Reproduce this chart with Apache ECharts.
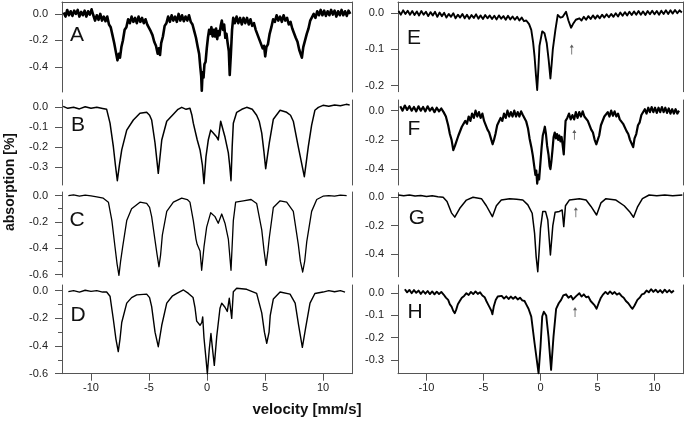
<!DOCTYPE html>
<html>
<head>
<meta charset="utf-8">
<script src="https://cdn.jsdelivr.net/npm/echarts@6/dist/echarts.min.js"></script>
<style>
  html, body { margin: 0; padding: 0; background: #fff; }
  #chart { width: 685px; height: 430px; }
</style>
</head>
<body>
<div id="chart"></div>
<script>
// spectra: [velocity mm/s, absorption %]
const specA = [[-12.35, 0.01], [-12.2, -0.02], [-12.05, 0.03], [-11.9, -0.01], [-11.75, 0.02], [-11.6, -0.015], [-11.45, 0.025], [-11.3, 0.0], [-11.15, 0.03], [-11.0, -0.02], [-10.85, 0.015], [-10.7, -0.01], [-10.55, 0.025], [-10.4, -0.02], [-10.25, 0.02], [-10.1, -0.005], [-9.95, 0.035], [-9.8, -0.01], [-9.65, -0.05], [-9.5, -0.01], [-9.35, -0.045], [-9.2, 0.0], [-9.05, -0.05], [-8.9, -0.02], [-8.75, -0.055], [-8.6, -0.02], [-8.45, -0.08], [-8.3, -0.1], [-8.15, -0.16], [-8.0, -0.22], [-7.85, -0.29], [-7.72, -0.35], [-7.6, -0.3], [-7.5, -0.33], [-7.38, -0.25], [-7.25, -0.2], [-7.1, -0.12], [-6.95, -0.1], [-6.8, -0.04], [-6.65, -0.07], [-6.5, -0.02], [-6.35, -0.06], [-6.2, -0.03], [-6.05, -0.07], [-5.9, -0.02], [-5.75, -0.06], [-5.6, -0.03], [-5.45, -0.07], [-5.3, -0.04], [-5.15, -0.08], [-5.0, -0.09], [-4.85, -0.13], [-4.7, -0.16], [-4.55, -0.21], [-4.4, -0.24], [-4.25, -0.3], [-4.15, -0.26], [-4.05, -0.31], [-3.95, -0.22], [-3.8, -0.17], [-3.65, -0.09], [-3.5, -0.07], [-3.35, -0.02], [-3.2, -0.06], [-3.05, -0.01], [-2.9, -0.05], [-2.75, -0.02], [-2.6, -0.06], [-2.45, 0.0], [-2.3, -0.05], [-2.15, -0.01], [-2.0, -0.055], [-1.85, -0.02], [-1.7, -0.05], [-1.55, -0.01], [-1.4, -0.06], [-1.25, -0.08], [-1.1, -0.13], [-0.95, -0.18], [-0.8, -0.25], [-0.68, -0.3], [-0.58, -0.4], [-0.5, -0.47], [-0.45, -0.58], [-0.38, -0.44], [-0.3, -0.48], [-0.22, -0.38], [-0.12, -0.36], [-0.02, -0.26], [0.08, -0.18], [0.18, -0.12], [0.28, -0.15], [0.38, -0.1], [0.48, -0.17], [0.58, -0.12], [0.68, -0.17], [0.78, -0.11], [0.88, -0.19], [0.98, -0.13], [1.08, -0.16], [1.18, -0.09], [1.28, -0.05], [1.38, -0.12], [1.48, -0.08], [1.58, -0.18], [1.68, -0.15], [1.78, -0.22], [1.88, -0.28], [1.96, -0.46], [2.06, -0.3], [2.16, -0.12], [2.26, -0.03], [2.4, -0.07], [2.55, -0.02], [2.7, -0.07], [2.85, -0.03], [3.0, -0.08], [3.15, -0.03], [3.3, -0.07], [3.45, -0.03], [3.6, -0.08], [3.75, -0.04], [3.9, -0.09], [4.05, -0.07], [4.2, -0.12], [4.35, -0.13], [4.5, -0.19], [4.65, -0.2], [4.8, -0.26], [4.92, -0.24], [5.02, -0.32], [5.12, -0.25], [5.25, -0.23], [5.4, -0.15], [5.55, -0.1], [5.7, -0.04], [5.85, -0.06], [6.0, -0.01], [6.15, -0.05], [6.3, -0.02], [6.45, -0.06], [6.6, -0.01], [6.75, -0.05], [6.9, -0.03], [7.05, -0.08], [7.2, -0.06], [7.35, -0.11], [7.5, -0.12], [7.65, -0.18], [7.8, -0.21], [7.95, -0.27], [8.08, -0.26], [8.18, -0.33], [8.3, -0.25], [8.45, -0.24], [8.6, -0.15], [8.75, -0.11], [8.9, -0.05], [9.05, -0.06], [9.2, 0.0], [9.35, -0.03], [9.5, 0.02], [9.65, -0.01], [9.8, 0.03], [9.95, -0.01], [10.1, 0.025], [10.25, -0.015], [10.4, 0.02], [10.55, -0.01], [10.7, 0.03], [10.85, -0.005], [11.0, 0.025], [11.15, -0.02], [11.3, 0.02], [11.45, -0.01], [11.6, 0.03], [11.75, -0.01], [11.9, 0.02], [12.05, -0.015], [12.2, 0.025], [12.35, 0.0]];
const specB = [[-12.4, 0.005], [-12.0, -0.005], [-11.5, 0.0], [-11.0, -0.008], [-10.5, 0.003], [-10.0, -0.005], [-9.5, 0.0], [-9.0, -0.006], [-8.65, -0.01], [-8.36, -0.08], [-8.07, -0.2], [-7.9, -0.29], [-7.73, -0.37], [-7.55, -0.29], [-7.35, -0.215], [-6.92, -0.115], [-6.35, -0.064], [-5.78, -0.03], [-5.2, -0.025], [-4.95, -0.04], [-4.77, -0.064], [-4.48, -0.18], [-4.2, -0.333], [-3.9, -0.165], [-3.47, -0.07], [-2.9, -0.035], [-2.5, -0.01], [-2.18, 0.0], [-1.8, -0.01], [-1.47, -0.005], [-1.3, -0.04], [-1.18, -0.08], [-0.84, -0.165], [-0.6, -0.215], [-0.4, -0.29], [-0.26, -0.385], [-0.09, -0.25], [0.11, -0.165], [0.32, -0.115], [0.54, -0.13], [0.84, -0.15], [0.97, -0.165], [1.18, -0.07], [1.35, -0.08], [1.55, -0.15], [1.84, -0.23], [1.95, -0.29], [2.07, -0.37], [2.17, -0.2], [2.27, -0.08], [2.56, -0.025], [3.0, -0.01], [3.42, 0.0], [3.9, -0.01], [4.28, -0.04], [4.5, -0.07], [4.72, -0.13], [4.9, -0.22], [5.06, -0.31], [5.2, -0.25], [5.37, -0.18], [5.72, -0.06], [6.3, -0.015], [6.87, -0.025], [7.2, -0.04], [7.44, -0.07], [7.87, -0.2], [8.15, -0.28], [8.39, -0.35], [8.55, -0.28], [8.73, -0.2], [9.02, -0.09], [9.3, -0.015], [9.6, 0.0], [10.0, 0.01], [10.5, 0.005], [11.0, 0.012], [11.5, 0.008], [12.0, 0.015], [12.3, 0.012]];
const specC = [[-11.95, 0.0], [-11.5, 0.005], [-11.0, -0.005], [-10.5, 0.003], [-10.0, -0.003], [-9.5, -0.01], [-8.94, -0.02], [-8.5, -0.05], [-8.2, -0.19], [-7.93, -0.39], [-7.75, -0.52], [-7.59, -0.605], [-7.45, -0.5], [-7.27, -0.39], [-6.92, -0.19], [-6.5, -0.1], [-5.78, -0.05], [-5.2, -0.06], [-4.95, -0.09], [-4.77, -0.16], [-4.48, -0.34], [-4.3, -0.45], [-4.14, -0.54], [-4.0, -0.45], [-3.85, -0.3], [-3.47, -0.12], [-2.9, -0.05], [-2.18, -0.02], [-1.7, -0.03], [-1.47, -0.05], [-1.18, -0.19], [-0.95, -0.33], [-0.85, -0.37], [-0.75, -0.36], [-0.6, -0.42], [-0.46, -0.567], [-0.26, -0.39], [-0.03, -0.24], [0.32, -0.13], [0.69, -0.16], [0.97, -0.21], [1.27, -0.14], [1.55, -0.21], [1.84, -0.33], [2.07, -0.567], [2.27, -0.19], [2.47, -0.05], [3.13, -0.04], [3.8, -0.03], [4.28, -0.06], [4.72, -0.26], [4.92, -0.42], [5.09, -0.53], [5.25, -0.42], [5.37, -0.32], [5.72, -0.09], [6.3, -0.04], [6.87, -0.05], [7.44, -0.12], [7.87, -0.37], [8.05, -0.5], [8.25, -0.58], [8.42, -0.5], [8.6, -0.35], [9.02, -0.12], [9.46, -0.03], [10.0, -0.005], [10.5, 0.0], [11.0, -0.005], [11.5, 0.003], [12.04, 0.0]];
const specD = [[-11.95, -0.007], [-11.5, 0.0], [-11.0, -0.01], [-10.5, 0.003], [-10.0, -0.005], [-9.5, 0.0], [-9.0, -0.01], [-8.65, -0.01], [-8.36, -0.04], [-8.07, -0.21], [-7.85, -0.35], [-7.65, -0.44], [-7.5, -0.35], [-7.35, -0.23], [-6.92, -0.09], [-6.5, -0.05], [-6.06, -0.03], [-5.2, -0.025], [-4.95, -0.05], [-4.77, -0.115], [-4.48, -0.3], [-4.2, -0.405], [-3.9, -0.25], [-3.47, -0.09], [-3.0, -0.04], [-2.6, -0.02], [-2.03, 0.005], [-1.6, -0.02], [-1.2, -0.05], [-1.03, -0.125], [-0.89, -0.22], [-0.6, -0.25], [-0.45, -0.23], [-0.37, -0.19], [-0.26, -0.34], [-0.1, -0.48], [0.03, -0.6], [0.2, -0.42], [0.34, -0.31], [0.5, -0.44], [0.63, -0.54], [0.84, -0.33], [1.12, -0.127], [1.27, -0.09], [1.55, -0.12], [1.75, -0.15], [1.92, -0.055], [2.13, -0.2], [2.27, -0.007], [2.56, 0.017], [3.42, 0.01], [4.28, -0.02], [4.72, -0.16], [4.95, -0.3], [5.15, -0.38], [5.35, -0.3], [5.45, -0.18], [5.72, -0.06], [6.3, -0.01], [7.16, -0.025], [7.6, -0.09], [7.9, -0.25], [8.22, -0.41], [8.5, -0.27], [8.88, -0.09], [9.3, -0.02], [10.0, -0.01], [10.5, 0.0], [11.0, -0.008], [11.5, 0.0], [11.9, -0.01]];
const specE = [[-12.45, 0.006], [-12.25, -0.004], [-12.05, 0.008], [-11.85, -0.002], [-11.65, 0.007], [-11.45, -0.004], [-11.25, 0.006], [-11.05, -0.005], [-10.85, 0.005], [-10.65, -0.006], [-10.45, 0.006], [-10.25, -0.004], [-10.05, 0.004], [-9.85, -0.008], [-9.65, 0.003], [-9.45, -0.006], [-9.25, 0.004], [-9.05, -0.01], [-8.85, 0.002], [-8.65, -0.008], [-8.45, 0.001], [-8.25, -0.012], [-8.05, -0.002], [-7.85, -0.01], [-7.65, 0.0], [-7.45, -0.014], [-7.25, -0.004], [-7.05, -0.012], [-6.85, -0.002], [-6.65, -0.014], [-6.45, -0.004], [-6.25, -0.015], [-6.05, -0.005], [-5.85, -0.013], [-5.65, -0.003], [-5.45, -0.015], [-5.25, -0.006], [-5.05, -0.016], [-4.85, -0.005], [-4.65, -0.014], [-4.45, -0.006], [-4.25, -0.016], [-4.05, -0.007], [-3.85, -0.017], [-3.65, -0.006], [-3.45, -0.015], [-3.25, -0.008], [-3.05, -0.018], [-2.85, -0.007], [-2.65, -0.017], [-2.45, -0.009], [-2.25, -0.018], [-2.05, -0.01], [-1.85, -0.02], [-1.65, -0.012], [-1.45, -0.022], [-1.25, -0.02], [-1.0, -0.03], [-0.81, -0.046], [-0.65, -0.08], [-0.52, -0.12], [-0.4, -0.17], [-0.29, -0.212], [-0.18, -0.15], [-0.09, -0.09], [0.15, -0.05], [0.35, -0.055], [0.55, -0.083], [0.72, -0.13], [0.87, -0.18], [0.98, -0.14], [1.08, -0.1], [1.31, -0.045], [1.51, -0.005], [1.75, -0.012], [1.95, -0.01], [2.24, 0.004], [2.45, -0.02], [2.68, -0.04], [2.85, -0.03], [3.1, -0.018], [3.41, -0.014], [3.6, -0.02], [3.8, -0.01], [4.0, -0.018], [4.2, -0.008], [4.4, -0.016], [4.6, -0.006], [4.8, -0.015], [5.0, -0.006], [5.2, -0.014], [5.4, -0.004], [5.6, -0.012], [5.8, -0.003], [6.0, -0.011], [6.2, -0.002], [6.4, -0.01], [6.6, 0.0], [6.8, -0.009], [7.0, 0.002], [7.2, -0.007], [7.4, 0.003], [7.6, -0.006], [7.8, 0.004], [8.0, -0.005], [8.2, 0.005], [8.4, -0.004], [8.6, 0.006], [8.8, -0.004], [9.0, 0.005], [9.2, -0.005], [9.4, 0.006], [9.6, -0.003], [9.8, 0.007], [10.0, -0.003], [10.2, 0.006], [10.4, -0.004], [10.6, 0.007], [10.8, -0.002], [11.0, 0.008], [11.2, -0.002], [11.4, 0.008], [11.6, -0.001], [11.8, 0.009], [12.0, 0.0], [12.2, 0.008], [12.4, 0.002]];
const specF = [[-12.3, 0.03], [-12.1, 0.0], [-11.9, 0.035], [-11.7, 0.005], [-11.5, 0.03], [-11.3, 0.0], [-11.1, 0.025], [-10.9, -0.005], [-10.7, 0.03], [-10.5, 0.0], [-10.3, 0.025], [-10.1, -0.005], [-9.9, 0.03], [-9.7, 0.0], [-9.5, 0.02], [-9.3, -0.01], [-9.1, 0.02], [-8.9, -0.005], [-8.7, 0.015], [-8.5, -0.01], [-8.3, -0.04], [-8.1, -0.1], [-7.95, -0.16], [-7.8, -0.2], [-7.65, -0.27], [-7.5, -0.24], [-7.35, -0.23], [-7.2, -0.17], [-7.05, -0.16], [-6.9, -0.11], [-6.75, -0.12], [-6.6, -0.07], [-6.45, -0.09], [-6.3, -0.04], [-6.15, -0.07], [-6.0, -0.02], [-5.85, -0.05], [-5.7, 0.0], [-5.55, -0.04], [-5.4, -0.01], [-5.25, -0.05], [-5.1, -0.02], [-4.95, -0.07], [-4.8, -0.08], [-4.65, -0.13], [-4.5, -0.15], [-4.35, -0.19], [-4.2, -0.23], [-4.08, -0.2], [-3.95, -0.16], [-3.8, -0.1], [-3.65, -0.09], [-3.5, -0.05], [-3.35, -0.07], [-3.2, -0.02], [-3.05, -0.05], [-2.9, 0.0], [-2.75, -0.04], [-2.6, -0.01], [-2.45, -0.04], [-2.3, 0.0], [-2.15, -0.04], [-2.0, -0.01], [-1.85, -0.04], [-1.7, -0.005], [-1.55, -0.03], [-1.4, -0.02], [-1.25, -0.075], [-1.1, -0.12], [-0.96, -0.19], [-0.8, -0.25], [-0.67, -0.31], [-0.55, -0.38], [-0.45, -0.44], [-0.37, -0.41], [-0.29, -0.5], [-0.2, -0.44], [-0.12, -0.47], [0.0, -0.35], [0.1, -0.25], [0.2, -0.17], [0.3, -0.14], [0.38, -0.11], [0.48, -0.16], [0.58, -0.24], [0.7, -0.3], [0.8, -0.38], [0.87, -0.4], [0.95, -0.35], [1.05, -0.27], [1.15, -0.18], [1.25, -0.15], [1.35, -0.19], [1.45, -0.16], [1.55, -0.2], [1.65, -0.17], [1.75, -0.21], [1.85, -0.18], [1.95, -0.24], [2.04, -0.3], [2.12, -0.18], [2.2, -0.07], [2.35, -0.05], [2.5, -0.02], [2.65, -0.06], [2.8, -0.03], [2.95, -0.06], [3.1, -0.01], [3.25, -0.05], [3.4, -0.01], [3.55, -0.04], [3.7, -0.005], [3.85, -0.04], [4.0, -0.03], [4.15, -0.07], [4.3, -0.08], [4.45, -0.13], [4.6, -0.15], [4.75, -0.2], [4.9, -0.23], [5.02, -0.2], [5.15, -0.17], [5.3, -0.1], [5.45, -0.09], [5.6, -0.04], [5.75, -0.05], [5.9, -0.01], [6.05, -0.04], [6.2, 0.0], [6.35, -0.035], [6.5, -0.005], [6.65, -0.04], [6.8, -0.02], [6.95, -0.06], [7.1, -0.05], [7.25, -0.09], [7.4, -0.1], [7.55, -0.14], [7.7, -0.16], [7.85, -0.2], [8.0, -0.21], [8.13, -0.25], [8.25, -0.19], [8.4, -0.16], [8.55, -0.1], [8.7, -0.08], [8.85, -0.03], [9.0, -0.04], [9.15, 0.01], [9.3, -0.02], [9.45, 0.02], [9.6, -0.01], [9.75, 0.025], [9.9, -0.01], [10.05, 0.02], [10.2, -0.015], [10.35, 0.02], [10.5, -0.01], [10.65, 0.025], [10.8, -0.01], [10.95, 0.02], [11.1, -0.015], [11.25, 0.015], [11.4, -0.02], [11.55, 0.01], [11.7, -0.02], [11.85, 0.01], [12.0, -0.02], [12.15, 0.0]];
const specG = [[-12.47, 0.016], [-12.0, 0.01], [-11.5, 0.015], [-11.0, 0.008], [-10.5, 0.012], [-10.0, 0.006], [-9.5, 0.01], [-9.0, 0.004], [-8.54, 0.0], [-8.2, -0.03], [-7.81, -0.11], [-7.52, -0.14], [-7.08, -0.078], [-6.5, -0.02], [-5.92, 0.0], [-5.18, -0.01], [-4.75, -0.06], [-4.22, -0.137], [-3.87, -0.06], [-3.44, -0.02], [-2.71, -0.01], [-2.1, -0.015], [-1.55, -0.02], [-1.11, -0.054], [-0.73, -0.113], [-0.52, -0.254], [-0.38, -0.42], [-0.24, -0.525], [-0.12, -0.38], [0.0, -0.22], [0.2, -0.1], [0.44, -0.1], [0.64, -0.16], [0.87, -0.407], [1.08, -0.2], [1.28, -0.106], [1.66, -0.1], [1.9, -0.09], [2.04, -0.207], [2.19, -0.06], [2.53, -0.02], [3.41, -0.01], [4.0, -0.02], [4.43, -0.065], [4.92, -0.125], [5.3, -0.04], [5.74, -0.01], [6.62, -0.02], [7.34, -0.06], [7.8, -0.1], [8.16, -0.141], [8.5, -0.07], [8.94, -0.01], [9.53, 0.016], [10.2, 0.01], [10.9, 0.016], [11.6, 0.01], [12.44, 0.016]];
const specH = [[-11.9, 0.018], [-11.7, 0.004], [-11.5, 0.015], [-11.3, 0.0], [-11.1, 0.014], [-10.9, 0.002], [-10.7, 0.012], [-10.5, -0.003], [-10.3, 0.01], [-10.1, -0.002], [-9.9, 0.01], [-9.7, -0.004], [-9.5, 0.008], [-9.3, -0.005], [-9.1, 0.007], [-8.9, -0.004], [-8.7, 0.006], [-8.5, -0.006], [-8.3, -0.02], [-8.1, -0.03], [-7.95, -0.05], [-7.8, -0.06], [-7.65, -0.08], [-7.52, -0.09], [-7.4, -0.075], [-7.25, -0.05], [-7.08, -0.035], [-6.9, -0.02], [-6.7, -0.012], [-6.5, 0.0], [-6.3, -0.008], [-6.1, 0.006], [-5.9, -0.004], [-5.7, 0.008], [-5.5, -0.003], [-5.3, 0.004], [-5.1, -0.01], [-4.9, -0.018], [-4.75, -0.035], [-4.6, -0.05], [-4.45, -0.065], [-4.3, -0.08], [-4.22, -0.095], [-4.1, -0.06], [-3.93, -0.03], [-3.75, -0.015], [-3.58, -0.022], [-3.4, -0.012], [-3.2, -0.024], [-3.0, -0.014], [-2.8, -0.026], [-2.6, -0.015], [-2.4, -0.025], [-2.2, -0.016], [-2.0, -0.028], [-1.8, -0.02], [-1.6, -0.032], [-1.4, -0.035], [-1.25, -0.05], [-1.05, -0.07], [-0.81, -0.105], [-0.52, -0.225], [-0.17, -0.36], [0.0, -0.24], [0.15, -0.105], [0.29, -0.083], [0.5, -0.1], [0.7, -0.195], [0.93, -0.345], [1.14, -0.195], [1.37, -0.07], [1.6, -0.045], [1.81, -0.03], [2.0, -0.01], [2.24, -0.005], [2.45, -0.02], [2.68, -0.012], [2.85, -0.028], [2.97, -0.035], [3.15, -0.012], [3.41, 0.0], [3.6, -0.015], [3.8, -0.005], [4.0, -0.018], [4.2, -0.015], [4.4, -0.035], [4.57, -0.04], [4.75, -0.055], [4.92, -0.07], [5.1, -0.045], [5.3, -0.02], [5.5, -0.005], [5.7, 0.006], [5.9, -0.004], [6.1, 0.008], [6.3, -0.003], [6.5, 0.005], [6.7, -0.006], [6.9, 0.0], [7.1, -0.012], [7.3, -0.02], [7.49, -0.035], [7.7, -0.045], [7.9, -0.06], [8.07, -0.07], [8.25, -0.055], [8.5, -0.03], [8.7, -0.02], [8.9, -0.005], [9.09, -0.002], [9.3, 0.012], [9.5, 0.004], [9.7, 0.018], [9.9, 0.006], [10.1, 0.016], [10.3, 0.004], [10.5, 0.014], [10.7, 0.002], [10.9, 0.016], [11.1, 0.004], [11.3, 0.014], [11.5, 0.003], [11.7, 0.012]];

// small arrows marking the extra line in E-H
const arrowE = [[2.74, -0.1]];
const arrowF = [[2.97, -0.165]];
const arrowG = [[3.1, -0.105]];
const arrowH = [[3.03, -0.085]];

// tick labels
const velTicks = [-10, -5, 0, 5, 10];
const ticks02 = [0, -0.2, -0.4];
const ticks02b = [0, -0.2, -0.4, -0.6];
const ticks01 = [0, -0.1, -0.2];
const ticks01b = [0, -0.1, -0.2, -0.3];
const minor02 = [-0.1, -0.3, -0.5];

const AXIS = '#555';
const TXT = '#222';
const ARROW = 'path://M3,0 L6,5 L3.6,5 L3.6,16 L2.4,16 L2.4,5 L0,5 Z';

const panels = [
  { name: 'A', data: specA, ticks: ticks02, minor: [], min: -0.589, max: 0.09, top: 2, height: 90, col: 0, lw: 2.6 },
  { name: 'B', data: specB, ticks: ticks01b, minor: [], min: -0.392, max: 0.037, top: 100, height: 85, col: 0, lw: 1.5 },
  { name: 'C', data: specC, ticks: ticks02b, minor: minor02, min: -0.618, max: 0.027, top: 192, height: 85, col: 0, lw: 1.3 },
  { name: 'D', data: specD, ticks: ticks02b, minor: minor02, min: -0.6, max: 0.041, top: 285, height: 88.7, col: 0, lw: 1.4, bottom: true },
  { name: 'E', data: specE, ticks: ticks01, minor: [], min: -0.2166, max: 0.031, top: 2, height: 89.7, col: 1, lw: 1.9, arrow: arrowE },
  { name: 'F', data: specF, ticks: ticks02, minor: [], min: -0.509, max: 0.073, top: 100, height: 85, col: 1, lw: 2.2, arrow: arrowF },
  { name: 'G', data: specG, ticks: ticks02, minor: [], min: -0.56, max: 0.032, top: 192.7, height: 84, col: 1, lw: 1.5, arrow: arrowG },
  { name: 'H', data: specH, ticks: ticks01b, minor: [], min: -0.362, max: 0.037, top: 285, height: 88.7, col: 1, lw: 1.9, arrow: arrowH, bottom: true },
];
const colLeft = [62, 398];
const colWidth = [290, 285];
const letterPos = [[77, 35], [78, 125], [77, 220], [78, 315], [414, 38], [414, 129], [417, 218], [415, 312]];

const chart = echarts.init(document.getElementById('chart'));
const grid = [];
const xAxis = [];
const yAxis = [];
const series = [];
const graphic = [];

panels.forEach((p, i) => {
  grid.push({ left: colLeft[p.col], width: colWidth[p.col], top: p.top, height: p.height, show: false });

  const xi = xAxis.length;
  xAxis.push({
    gridIndex: i, type: 'value', min: -12.5, max: 12.5, position: 'bottom',
    axisLine: { show: !!p.bottom, onZero: false, lineStyle: { color: AXIS, width: 1 } },
    axisTick: { show: !!p.bottom, length: 7, customValues: velTicks, lineStyle: { color: AXIS } },
    axisLabel: { show: !!p.bottom, customValues: velTicks, margin: 9, fontSize: 11, color: TXT, fontFamily: 'Liberation Sans, Arial' },
    splitLine: { show: false },
  });
  if (p.top < 5) {
    // top frame line
    xAxis.push({
      gridIndex: i, type: 'value', min: -12.5, max: 12.5, position: 'top',
      axisLine: { show: true, onZero: false, lineStyle: { color: AXIS, width: 1 } },
      axisTick: { show: false }, axisLabel: { show: false }, splitLine: { show: false },
    });
  }

  const yi = yAxis.length;
  yAxis.push({
    gridIndex: i, type: 'value', min: p.min, max: p.max, position: 'left',
    axisLine: { show: true, onZero: false, lineStyle: { color: AXIS, width: 1 } },
    axisTick: { show: true, length: 7, customValues: p.ticks, lineStyle: { color: AXIS } },
    axisLabel: {
      customValues: p.ticks, margin: 14, fontSize: 11, color: TXT, fontFamily: 'Liberation Sans, Arial',
      formatter: v => v.toFixed(1),
    },
    splitLine: { show: false },
  });
  // right frame line
  yAxis.push({
    gridIndex: i, type: 'value', min: p.min, max: p.max, position: 'right',
    axisLine: { show: true, onZero: false, lineStyle: { color: AXIS, width: 1 } },
    axisTick: { show: false }, axisLabel: { show: false }, splitLine: { show: false },
  });
  if (p.minor.length) {
    yAxis.push({
      gridIndex: i, type: 'value', min: p.min, max: p.max, position: 'left',
      axisLine: { show: false, onZero: false },
      axisTick: { show: true, length: 4, customValues: p.minor, lineStyle: { color: AXIS } },
      axisLabel: { show: false }, splitLine: { show: false },
    });
  }

  series.push({
    type: 'line', xAxisIndex: xi, yAxisIndex: yi, data: p.data,
    symbol: 'none', clip: false, animation: false,
    lineStyle: { color: '#000', width: p.lw, join: 'round' },
  });
  if (p.arrow) {
    series.push({
      type: 'scatter', xAxisIndex: xi, yAxisIndex: yi, data: p.arrow,
      symbol: ARROW, symbolSize: [4, 10], itemStyle: { color: '#333' }, animation: false, silent: true,
    });
  }

  graphic.push({
    type: 'text', x: letterPos[i][0], y: letterPos[i][1],
    style: { text: p.name, fontSize: 21, fill: '#111', align: 'center', verticalAlign: 'middle', fontFamily: 'Liberation Sans, Arial' },
  });
});

graphic.push({
  type: 'text', x: 10, y: 182, rotation: Math.PI / 2,
  style: { text: 'absorption [%]', fontSize: 14, fontWeight: 'bold', fill: '#111', align: 'center', verticalAlign: 'middle', fontFamily: 'Liberation Sans, Arial' },
});
graphic.push({
  type: 'text', x: 307, y: 410,
  style: { text: 'velocity [mm/s]', fontSize: 15, fontWeight: 'bold', fill: '#111', align: 'center', verticalAlign: 'middle', fontFamily: 'Liberation Sans, Arial' },
});

chart.setOption({
  animation: false,
  backgroundColor: '#fff',
  grid,
  xAxis,
  yAxis,
  series,
  graphic,
});
</script>
</body>
</html>
